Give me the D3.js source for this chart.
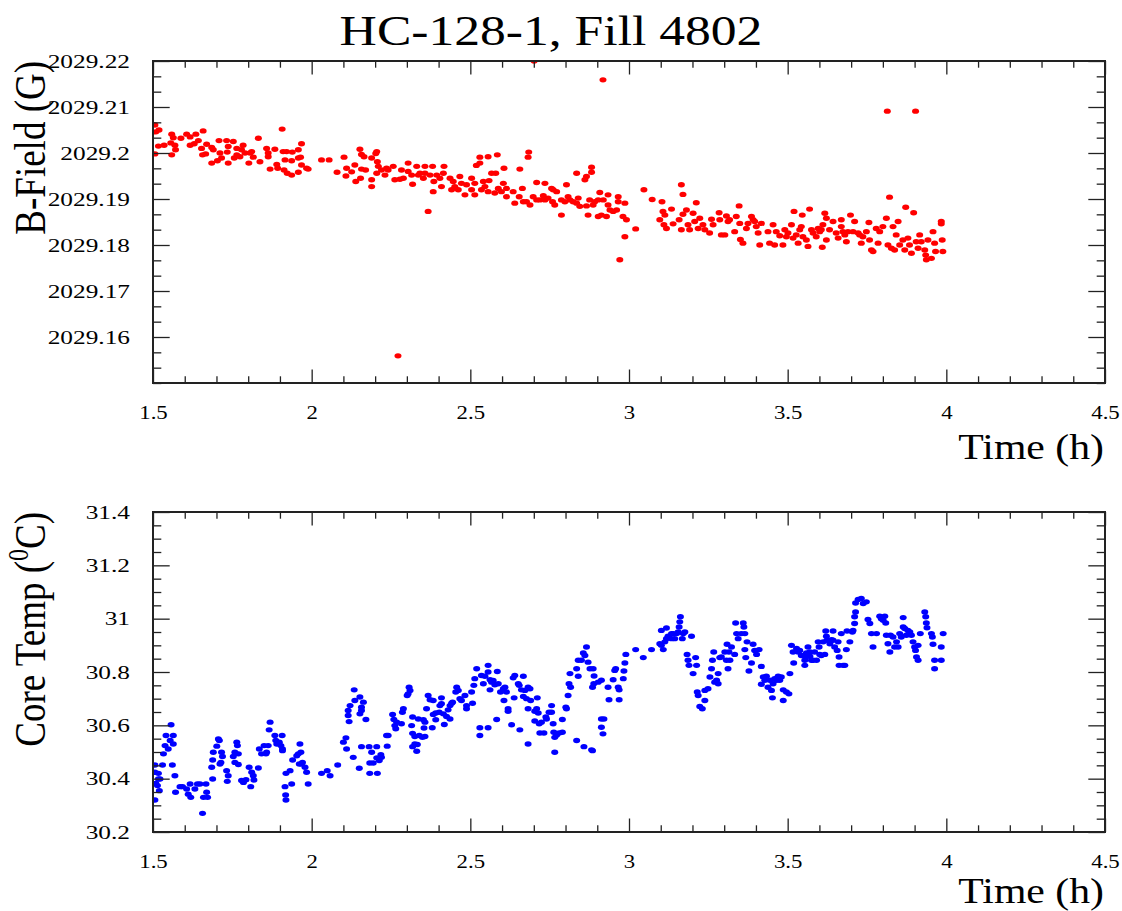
<!DOCTYPE html>
<html>
<head>
<meta charset="utf-8">
<script src="https://cdn.jsdelivr.net/npm/d3@7"></script>
<style>
  html, body { margin: 0; padding: 0; background: #fff; }
  svg { display: block; }
</style>
</head>
<body>
<svg id="chart" width="1122" height="911"></svg>
<script>
// ---- data: [time (h), value] ----
const bFieldPoints = [
  [1.506,2029.2061],[1.509,2029.2046],[1.519,2029.2050],[1.506,2029.1998],[1.517,2029.2015],[1.535,2029.2017],[1.559,2029.2041],[1.564,2029.2033],[1.556,2029.2022],[1.569,2029.2017],
  [1.559,2029.1996],[1.571,2029.2007],[1.588,2029.2032],[1.606,2029.2041],[1.617,2029.2035],[1.635,2029.2041],[1.658,2029.2048],[1.617,2029.2017],[1.630,2029.2020],[1.643,2029.2027],
  [1.653,2029.2010],[1.669,2029.2019],[1.685,2029.2012],[1.690,2029.2007],[1.656,2029.1996],[1.666,2029.1998],[1.685,2029.1978],[1.708,2029.2027],[1.732,2029.2027],[1.753,2029.2025],
  [1.737,2029.2014],[1.764,2029.2010],[1.784,2029.2017],[1.779,2029.2007],[1.711,2029.2000],[1.716,2029.1989],[1.703,2029.1983],[1.737,2029.1978],[1.734,2029.2002],[1.764,2029.1996],
  [1.756,2029.1989],[1.774,2029.1992],[1.790,2029.2000],[1.806,2029.2000],[1.811,2029.2003],[1.816,2029.1991],[1.802,2029.1978],[1.837,2029.1981],[1.832,2029.2032],[1.858,2029.2010],
  [1.863,2029.2000],[1.863,2029.1992],[1.884,2029.2008],[1.907,2029.2052],[1.910,2029.2003],[1.921,2029.2003],[1.939,2029.2002],[1.958,2029.2007],[1.968,2029.2020],[1.869,2029.1965],
  [1.890,2029.1975],[1.893,2029.1967],[1.916,2029.1985],[1.913,2029.1963],[1.923,2029.1956],[1.937,2029.1952],[1.937,2029.1983],[1.958,2029.1989],[1.965,2029.1991],[1.958,2029.1958],
  [1.968,2029.1974],[1.984,2029.1967],[1.989,2029.1965],[2.031,2029.1985],[2.055,2029.1985],[2.080,2029.1958],[2.102,2029.1991],[2.110,2029.1967],[2.108,2029.1950],[2.126,2029.1959],
  [2.136,2029.1974],[2.139,2029.1938],[2.152,2029.2008],[2.157,2029.1997],[2.165,2029.1992],[2.157,2029.1965],[2.154,2029.1945],[2.170,2029.1963],
  [2.189,2029.1989],[2.202,2029.1999],[2.205,2029.2003],[2.189,2029.1942],[2.189,2029.1927],[2.207,2029.1981],[2.210,2029.1971],[2.205,2029.1956],[2.220,2029.1963],[2.236,2029.1967],
  [2.231,2029.1952],[2.241,2029.1963],[2.257,2029.1971],[2.262,2029.1942],[2.283,2029.1963],[2.278,2029.1943],[2.289,2029.1945],[2.304,2029.1978],[2.304,2029.1960],[2.315,2029.1952],
  [2.318,2029.1932],[2.331,2029.1971],[2.336,2029.1952],[2.341,2029.1956],[2.352,2029.1945],[2.357,2029.1971],[2.357,2029.1956],[2.367,2029.1873],[2.373,2029.1952],[2.381,2029.1971],
  [2.385,2029.1938],[2.383,2029.1916],[2.394,2029.1952],[2.404,2029.1945],[2.409,2029.1927],[2.417,2029.1971],[2.415,2029.1956],[2.436,2029.1945],[2.441,2029.1920],[2.446,2029.1938],
  [2.451,2029.1927],[2.462,2029.1920],[2.467,2029.1949],[2.472,2029.1934],[2.483,2029.1909],[2.488,2029.1931],[2.504,2029.1945],[2.504,2029.1920],[2.514,2029.1934],[2.514,2029.1909],
  [2.519,2029.1973],[2.530,2029.1991],[2.530,2029.1978],[2.535,2029.1920],[2.541,2029.1938],[2.546,2029.1927],[2.556,2029.1992],[2.556,2029.1916],[2.559,2029.1940],[2.567,2029.1956],
  [2.577,2029.1913],[2.580,2029.1956],[2.585,2029.1996],[2.588,2029.1923],[2.598,2029.1916],[2.604,2029.1934],[2.606,2029.1967],[2.614,2029.1905],[2.614,2029.1923],[2.635,2029.1916],
  [2.640,2029.1891],[2.656,2029.1965],[2.654,2029.1905],[2.664,2029.1923],[2.667,2029.1894],[2.677,2029.1894],[2.682,2029.1991],[2.684,2029.2002],[2.688,2029.1887],[2.698,2029.1905],
  [2.709,2029.1936],[2.709,2029.1898],[2.719,2029.1898],[2.730,2029.1907],[2.735,2029.1934],[2.735,2029.1898],[2.745,2029.1902],[2.756,2029.1923],[2.759,2029.1894],[2.761,2029.1920],
  [2.766,2029.1887],[2.772,2029.1916],[2.787,2029.1865],[2.787,2029.1898],[2.798,2029.1894],[2.803,2029.1931],[2.808,2029.1905],[2.814,2029.1898],[2.824,2029.1894],[2.835,2029.1956],
  [2.835,2029.1891],[2.840,2029.1902],[2.845,2029.1884],[2.861,2029.1942],[2.866,2029.1949],[2.866,2029.1885],[2.871,2029.1865],[2.876,2029.1898],[2.882,2029.1958],[2.882,2029.1969],
  [2.887,2029.1887],[2.892,2029.1894],[2.903,2029.1862],[2.903,2029.1898],[2.908,2029.1914],[2.913,2029.1865],[2.919,2029.1898],[2.929,2029.1862],[2.934,2029.1909],[2.934,2029.1887],
  [2.940,2029.1876],[2.950,2029.1873],[2.961,2029.1876],[2.966,2029.1905],[2.966,2029.1894],[2.971,2029.1768],[2.981,2029.1862],[2.987,2029.1891],[2.987,2029.1818],[2.992,2029.1855],
  [3.021,2029.1835],
  [3.047,2029.1920],[3.073,2029.1899],[3.104,2029.1894],[3.107,2029.1873],[3.097,2029.1855],[3.113,2029.1865],[3.110,2029.1844],[3.118,2029.1836],[3.134,2029.1878],[3.139,2029.1846],
  [3.158,2029.1855],[3.165,2029.1931],[3.170,2029.1910],[3.165,2029.1833],[3.170,2029.1867],[3.181,2029.1876],[3.186,2029.1844],[3.191,2029.1833],[3.202,2029.1869],[3.212,2029.1892],
  [3.207,2029.1851],[3.218,2029.1836],[3.223,2029.1858],[3.233,2029.1844],[3.239,2029.1833],[3.254,2029.1826],[3.260,2029.1856],[3.265,2029.1844],[3.284,2029.1870],[3.286,2029.1855],
  [3.291,2029.1822],[3.302,2029.1822],[3.307,2029.1863],[3.312,2029.1851],[3.317,2029.1855],[3.333,2029.1829],[3.338,2029.1862],[3.347,2029.1885],[3.349,2029.1847],[3.351,2029.1812],
  [3.359,2029.1804],[3.370,2029.1836],[3.375,2029.1847],[3.386,2029.1862],[3.391,2029.1855],[3.396,2029.1851],[3.401,2029.1840],[3.407,2029.1826],[3.412,2029.1800],[3.417,2029.1847],
  [3.438,2029.1829],[3.443,2029.1804],[3.454,2029.1844],[3.459,2029.1800],[3.464,2029.1829],[3.475,2029.1820],[3.485,2029.1800],[3.491,2029.1833],[3.496,2029.1818],[3.501,2029.1826],
  [3.512,2029.1844],[3.517,2029.1815],[3.520,2029.1873],[3.527,2029.1822],[3.533,2029.1804],[3.538,2029.1833],[3.543,2029.1840],[3.546,2029.1865],[3.548,2029.1818],[3.559,2029.1811],
  [3.564,2029.1797],[3.569,2029.1878],[3.575,2029.1833],[3.580,2029.1826],[3.590,2029.1818],[3.596,2029.1836],[3.601,2029.1829],[3.606,2029.1833],[3.609,2029.1795],[3.611,2029.1844],
  [3.617,2029.1869],[3.622,2029.1811],[3.622,2029.1858],[3.632,2029.1833],[3.643,2029.1851],[3.653,2029.1826],[3.659,2029.1815],[3.669,2029.1855],[3.669,2029.1840],[3.674,2029.1829],
  [3.680,2029.1822],[3.685,2029.1807],[3.690,2029.1829],[3.698,2029.1865],[3.706,2029.1829],[3.711,2029.1851],[3.722,2029.1826],[3.727,2029.1822],[3.732,2029.1804],[3.737,2029.1818],
  [3.748,2029.1829],[3.756,2029.1849],[3.758,2029.1811],[3.764,2029.1789],[3.769,2029.1786],[3.779,2029.1836],[3.785,2029.1804],[3.790,2029.1829],[3.800,2029.1840],[3.811,2029.1858],
  [3.816,2029.1800],[3.821,2029.1904],[3.827,2029.1793],[3.832,2029.1840],[3.837,2029.1789],[3.842,2029.1822],[3.848,2029.1851],[3.853,2029.1800],[3.863,2029.1811],[3.869,2029.1789],
  [3.872,2029.1882],[3.879,2029.1815],[3.884,2029.1800],[3.890,2029.1782],[3.897,2029.1870],[3.905,2029.1807],[3.911,2029.1793],[3.916,2029.1822],[3.921,2029.1807],[3.932,2029.1789],
  [3.935,2029.1778],[3.937,2029.1768],[3.942,2029.1811],[3.953,2029.1771],[3.958,2029.1829],[3.963,2029.1804],[3.966,2029.1786],[3.984,2029.1851],[3.984,2029.1846],[3.987,2029.1811],
  [3.989,2029.1786],
  [2.701,2029.2200],[2.918,2029.2159],[3.814,2029.2091],[3.903,2029.2091],[2.272,2029.1559]
];

const coreTempPoints = [
  [1.506,30.451],[1.506,30.424],[1.509,30.382],[1.506,30.320],[1.517,30.420],[1.517,30.399],[1.522,30.399],[1.514,30.374],[1.520,30.355],[1.530,30.451],
  [1.533,30.493],[1.538,30.524],[1.541,30.562],[1.548,30.511],[1.554,30.543],[1.557,30.602],[1.564,30.562],[1.564,30.530],[1.561,30.451],[1.569,30.411],
  [1.571,30.349],[1.585,30.370],[1.593,30.370],[1.606,30.361],[1.611,30.342],[1.617,30.380],[1.619,30.330],[1.632,30.361],[1.640,30.380],[1.648,30.380],
  [1.656,30.270],[1.659,30.330],[1.667,30.380],[1.669,30.349],[1.672,30.330],[1.688,30.399],[1.685,30.443],[1.688,30.470],[1.690,30.499],[1.701,30.522],
  [1.706,30.549],[1.709,30.543],[1.714,30.461],[1.716,30.499],[1.719,30.483],[1.711,30.455],[1.732,30.430],[1.737,30.411],[1.734,30.390],[1.753,30.483],
  [1.758,30.499],[1.764,30.537],[1.766,30.524],[1.758,30.461],[1.769,30.453],[1.769,30.493],[1.779,30.393],[1.785,30.386],[1.793,30.396],[1.803,30.443],
  [1.808,30.370],[1.811,30.424],[1.816,30.411],[1.818,30.395],[1.832,30.440],[1.835,30.511],[1.842,30.493],[1.850,30.524],[1.856,30.493],[1.858,30.499],
  [1.863,30.524],[1.866,30.583],[1.869,30.612],[1.884,30.562],[1.887,30.543],[1.890,30.530],[1.898,30.537],[1.903,30.524],[1.908,30.511],[1.908,30.505],
  [1.907,30.562],[1.916,30.370],[1.918,30.339],[1.919,30.320],[1.919,30.420],[1.932,30.430],[1.937,30.380],[1.940,30.470],[1.953,30.486],[1.958,30.493],
  [1.961,30.455],[1.963,30.530],[1.966,30.499],[1.968,30.455],[1.971,30.461],[1.979,30.443],[1.984,30.424],[1.989,30.380],[2.031,30.420],[2.049,30.430],
  [2.058,30.411],[2.082,30.451],[2.100,30.537],[2.108,30.553],[2.110,30.511],[2.118,30.614],[2.115,30.637],[2.115,30.656],[2.121,30.674],[2.131,30.480],
  [2.136,30.693],[2.150,30.439],[2.152,30.643],[2.157,30.668],[2.163,30.687],[2.157,30.656],[2.171,30.622],[2.157,30.520],[2.181,30.520],[2.183,30.459],
  [2.189,30.499],[2.183,30.420],[2.194,30.459],[2.205,30.520],[2.205,30.478],[2.207,30.420],[2.213,30.468],[2.218,30.490],[2.220,30.480],[2.238,30.522],
  [2.236,30.562],[2.241,30.562],[2.255,30.641],[2.259,30.622],[2.262,30.599],[2.265,30.587],[2.268,30.612],[2.134,30.733],[2.152,30.706],
  [2.307,30.743],[2.310,30.731],[2.304,30.718],[2.301,30.712],[2.289,30.662],[2.286,30.649],[2.283,30.606],[2.318,30.631],[2.315,30.599],[2.318,30.570],
  [2.325,30.558],[2.336,30.624],[2.339,30.562],[2.333,30.528],[2.325,30.530],[2.318,30.520],[2.331,30.503],[2.352,30.621],[2.354,30.590],[2.357,30.612],
  [2.349,30.555],[2.357,30.558],[2.362,30.662],[2.367,30.712],[2.373,30.696],[2.383,30.693],[2.380,30.591],[2.383,30.641],[2.391,30.646],[2.391,30.621],
  [2.402,30.649],[2.404,30.674],[2.409,30.703],[2.409,30.681],[2.415,30.643],[2.418,30.603],[2.425,30.633],[2.430,30.658],[2.436,30.624],[2.436,30.674],
  [2.441,30.683],[2.444,30.687],[2.454,30.725],[2.457,30.743],[2.462,30.731],[2.467,30.700],[2.472,30.693],[2.483,30.712],[2.488,30.674],[2.488,30.662],
  [2.504,30.725],[2.507,30.683],[2.511,30.750],[2.514,30.775],[2.520,30.812],[2.530,30.591],[2.530,30.562],[2.535,30.787],[2.541,30.756],[2.546,30.784],
  [2.556,30.825],[2.556,30.800],[2.556,30.591],[2.562,30.771],[2.562,30.733],[2.567,30.762],[2.572,30.768],[2.577,30.752],[2.585,30.802],[2.588,30.756],
  [2.583,30.622],[2.595,30.725],[2.604,30.737],[2.609,30.743],[2.606,30.693],[2.614,30.725],[2.619,30.662],[2.619,30.653],[2.630,30.602],[2.635,30.778],
  [2.640,30.787],[2.638,30.703],[2.651,30.756],[2.654,30.750],[2.656,30.583],[2.661,30.733],[2.667,30.784],[2.667,30.708],[2.672,30.731],[2.677,30.700],
  [2.682,30.530],[2.682,30.662],[2.682,30.743],[2.688,30.737],[2.690,30.693],[2.703,30.653],[2.703,30.616],[2.709,30.662],[2.711,30.703],[2.714,30.646],
  [2.717,30.606],[2.719,30.571],[2.724,30.612],[2.732,30.571],[2.738,30.631],[2.740,30.624],[2.748,30.649],[2.756,30.674],[2.756,30.649],[2.761,30.606],
  [2.763,30.574],[2.766,30.555],[2.766,30.499],[2.772,30.564],[2.780,30.571],[2.790,30.574],[2.790,30.622],[2.801,30.668],[2.803,30.662],[2.808,30.712],
  [2.811,30.756],[2.816,30.743],[2.814,30.794],[2.835,30.812],[2.835,30.543],[2.840,30.784],[2.840,30.844],[2.850,30.844],[2.856,30.871],[2.858,30.520],
  [2.861,30.862],[2.866,30.894],[2.871,30.837],[2.877,30.812],[2.882,30.508],[2.885,30.505],[2.885,30.743],[2.887,30.812],[2.890,30.785],[2.889,30.756],
  [2.903,30.762],
  [2.913,30.624],[2.921,30.624],[2.913,30.593],[2.918,30.568],[2.913,30.769],[2.934,30.743],[2.937,30.696],[2.950,30.771],[2.955,30.806],[2.958,30.812],
  [2.966,30.743],[2.969,30.733],[2.969,30.696],[2.982,30.775],[2.984,30.804],[2.987,30.834],[2.990,30.866],[3.021,30.884],[3.045,30.854],[3.071,30.884],
  [3.097,30.906],[3.102,30.900],[3.102,30.956],[3.108,30.884],[3.113,30.913],[3.118,30.925],[3.118,30.965],[3.123,30.934],[3.134,30.944],[3.134,30.925],
  [3.139,30.944],[3.144,30.925],[3.150,30.944],[3.155,30.950],[3.158,30.969],[3.160,30.988],[3.162,31.007],[3.168,30.925],[3.171,30.944],[3.176,30.950],
  [3.183,30.866],[3.186,30.844],[3.189,30.825],[3.197,30.934],[3.202,30.794],[3.210,30.854],[3.213,30.825],[3.215,30.725],[3.218,30.712],[3.223,30.671],
  [3.231,30.662],[3.239,30.731],[3.239,30.693],[3.249,30.737],[3.255,30.781],[3.260,30.812],[3.263,30.844],[3.267,30.875],[3.270,30.762],[3.276,30.769],
  [3.281,30.756],[3.281,30.794],[3.286,30.854],[3.291,30.856],[3.302,30.875],[3.307,30.844],[3.312,30.812],[3.309,30.904],[3.315,30.875],[3.318,30.844],
  [3.323,30.894],[3.333,30.866],[3.336,30.984],[3.339,30.944],[3.344,30.925],[3.354,30.944],[3.360,30.984],[3.362,30.969],[3.365,30.944],[3.365,30.884],
  [3.368,30.854],[3.372,30.913],[3.378,30.804],[3.386,30.834],[3.391,30.904],[3.396,30.881],[3.402,30.866],[3.410,30.884],[3.417,30.821],[3.417,30.754],
  [3.423,30.781],[3.428,30.769],[3.433,30.784],[3.438,30.743],[3.444,30.769],[3.449,30.731],[3.452,30.703],[3.454,30.756],[3.459,30.775],[3.465,30.769],
  [3.470,30.784],[3.475,30.769],[3.480,30.781],[3.486,30.733],[3.486,30.693],[3.496,30.725],[3.504,30.718],[3.507,30.794],[3.512,30.900],[3.517,30.875],
  [3.519,30.834],[3.528,30.888],[3.533,30.875],[3.538,30.881],[3.543,30.862],[3.554,30.844],[3.554,30.825],[3.557,30.856],[3.559,30.871],[3.564,30.894],
  [3.570,30.875],[3.570,30.859],[3.575,30.844],[3.580,30.844],[3.585,30.875],[3.591,30.844],[3.596,30.913],[3.599,30.894],[3.601,30.866],[3.606,30.862],
  [3.612,30.913],[3.617,30.866],[3.620,30.954],[3.622,30.934],[3.624,30.919],[3.633,30.906],[3.638,30.921],[3.643,30.954],[3.643,30.919],[3.648,30.894],
  [3.656,30.881],[3.659,30.913],[3.662,30.856],[3.662,30.825],[3.669,30.944],[3.675,30.825],[3.680,30.825],[3.685,30.884],[3.687,30.954],[3.696,30.913],
  [3.704,30.950],[3.706,30.956],[3.711,30.982],[3.711,31.007],[3.714,31.025],[3.714,31.059],[3.722,31.072],[3.732,31.076],[3.738,31.057],[3.748,31.063],
  [3.753,30.997],[3.759,30.982],[3.764,30.944],[3.769,30.894],[3.780,30.944],[3.790,31.009],[3.795,31.000],[3.801,30.994],[3.806,31.009],[3.809,30.984],
  [3.811,30.938],[3.816,30.906],[3.822,30.875],[3.824,30.938],[3.832,30.931],[3.837,30.894],[3.843,30.913],[3.848,30.894],[3.853,30.944],[3.858,30.931],
  [3.864,31.004],[3.864,30.969],[3.869,30.963],[3.874,30.938],[3.879,30.956],[3.885,30.950],[3.890,30.938],[3.895,30.913],[3.900,30.894],[3.903,30.881],
  [3.906,30.856],[3.911,30.844],[3.911,30.900],[3.918,30.944],[3.932,31.025],[3.935,31.007],[3.937,30.984],[3.939,30.966],[3.953,30.944],[3.956,30.931],
  [3.958,30.904],[3.963,30.844],[3.963,30.812],[3.984,30.844],[3.984,30.894],[3.990,30.944]
];

const timeTicks = [1.5, 2, 2.5, 3, 3.5, 4, 4.5];
const bFieldTicks = [2029.16, 2029.17, 2029.18, 2029.19, 2029.2, 2029.21, 2029.22];
const coreTempTicks = [30.2, 30.4, 30.6, 30.8, 31, 31.2, 31.4];

const titleText = "HC-128-1, Fill 4802";
const timeLabel = "Time (h)";

// ---- drawing ----
const svg = d3.select("#chart");
const FONT = '"Liberation Serif", "Times New Roman", Times, serif';
const INK = "#222";
const WIDE = 1.2;        // horizontal stretch applied to all lettering

svg.append("rect").attr("width", 1122).attr("height", 911).attr("fill", "#fff");

// title
svg.append("text")
  .attr("transform", `translate(551,45) scale(${WIDE},1)`)
  .attr("text-anchor", "middle")
  .attr("font-family", FONT).attr("font-size", 43).attr("fill", "#000")
  .text(titleText);

function minorValues(domain, step, majors) {
  const out = [];
  const n = Math.round((domain[1] - domain[0]) / step);
  for (let i = 0; i <= n; i++) {
    const v = domain[0] + i * step;
    if (!majors.some(m => Math.abs(m - v) < step * 1e-3)) out.push(v);
  }
  return out;
}

function drawPanel(cfg) {
  const { top, bottom, left, right, yDomain, yTicks, yMinorStep, points, color,
          yFormat, clipId, drawYTitle, xTitleOffset } = cfg;

  const x = d3.scaleLinear().domain([1.5, 4.5]).range([left, right]);
  const y = d3.scaleLinear().domain(yDomain).range([bottom, top]);

  const g = svg.append("g");

  // markers, clipped to the frame
  g.append("clipPath").attr("id", clipId)
    .append("rect").attr("x", left).attr("y", top)
    .attr("width", right - left).attr("height", bottom - top);

  g.append("g").attr("clip-path", `url(#${clipId})`)
    .selectAll("ellipse").data(points).join("ellipse")
    .attr("cx", d => x(d[0])).attr("cy", d => y(d[1]))
    .attr("rx", 3.5).attr("ry", 2.7)
    .attr("fill", color);

  const xMinor = minorValues([1.5, 4.5], 0.1, timeTicks);
  const yMinor = minorValues(yDomain, yMinorStep, yTicks);

  const XMAJ = 13.5, XMIN = 6.7, YMAJ = 16.7, YMIN = 8.3;

  const tickStyle = sel => {
    sel.select(".domain").remove();
    sel.attr("color", INK);
    sel.selectAll(".tick line").attr("stroke-width", 1.3);
  };

  // bottom axis: inward ticks + labels
  g.append("g").attr("transform", `translate(0,${bottom})`)
    .call(d3.axisBottom(x).tickValues(xMinor).tickSize(-XMIN).tickFormat(""))
    .call(tickStyle);
  const bx = g.append("g").attr("transform", `translate(0,${bottom})`)
    .call(d3.axisBottom(x).tickValues(timeTicks).tickSize(-XMAJ).tickPadding(36)
      .tickFormat(d3.format("~g")))
    .call(tickStyle);
  bx.selectAll("text")
    .attr("dy", 0).attr("fill", "#000")
    .attr("font-family", FONT).attr("font-size", 19)
    .attr("transform", `scale(${WIDE},1)`);

  // top axis: ticks only
  g.append("g").attr("transform", `translate(0,${top})`)
    .call(d3.axisTop(x).tickValues(xMinor).tickSize(-XMIN).tickFormat(""))
    .call(tickStyle);
  g.append("g").attr("transform", `translate(0,${top})`)
    .call(d3.axisTop(x).tickValues(timeTicks).tickSize(-XMAJ).tickFormat(""))
    .call(tickStyle);

  // left axis: inward ticks + labels
  g.append("g").attr("transform", `translate(${left},0)`)
    .call(d3.axisLeft(y).tickValues(yMinor).tickSize(-YMIN).tickFormat(""))
    .call(tickStyle);
  const ly = g.append("g").attr("transform", `translate(${left},0)`)
    .call(d3.axisLeft(y).tickValues(yTicks).tickSize(-YMAJ).tickPadding(17.7)
      .tickFormat(yFormat))
    .call(tickStyle);
  ly.selectAll("text")
    .attr("fill", "#000")
    .attr("font-family", FONT).attr("font-size", 19.5)
    .attr("transform", "scale(1.3,1)");

  // right axis: ticks only
  g.append("g").attr("transform", `translate(${right},0)`)
    .call(d3.axisRight(y).tickValues(yMinor).tickSize(-YMIN).tickFormat(""))
    .call(tickStyle);
  g.append("g").attr("transform", `translate(${right},0)`)
    .call(d3.axisRight(y).tickValues(yTicks).tickSize(-YMAJ).tickFormat(""))
    .call(tickStyle);

  // frame
  g.append("rect")
    .attr("x", left).attr("y", top)
    .attr("width", right - left).attr("height", bottom - top)
    .attr("fill", "none").attr("stroke", INK).attr("stroke-width", 2);

  // x title, right aligned under the axis
  g.append("text")
    .attr("transform", `translate(${right - 1},${bottom + xTitleOffset}) scale(1.16,1)`)
    .attr("text-anchor", "end")
    .attr("font-family", FONT).attr("font-size", 36).attr("fill", "#000")
    .text(timeLabel);

  // y title, rotated, ending at the top of the frame
  const yt = g.append("text")
    .attr("transform", `translate(45,${top}) rotate(-90) scale(1,${WIDE})`)
    .attr("text-anchor", "end")
    .attr("font-family", FONT).attr("font-size", 37).attr("fill", "#000");
  drawYTitle(yt);
}

drawPanel({
  top: 61, bottom: 383, left: 153, right: 1105,
  yDomain: [2029.15, 2029.22], yTicks: bFieldTicks, yMinorStep: 0.01 / 3,
  points: bFieldPoints, color: "#ff0000", clipId: "clip-bfield", xTitleOffset: 76,
  yFormat: d => d3.format("~f")(+d.toFixed(2)),
  drawYTitle: t => t.text("B-Field (G)")
});

drawPanel({
  top: 512, bottom: 832, left: 153, right: 1105,
  yDomain: [30.2, 31.4], yTicks: coreTempTicks, yMinorStep: 0.05,
  points: coreTempPoints, color: "#0000ff", clipId: "clip-coretemp", xTitleOffset: 71,
  yFormat: d => d3.format("~f")(+d.toFixed(1)),
  drawYTitle: t => {
    t.append("tspan").text("Core Temp (");
    t.append("tspan").attr("font-size", 24).attr("dy", -14).text("0");
    t.append("tspan").attr("dy", 14).text("C)");
  }
});
</script>
</body>
</html>
